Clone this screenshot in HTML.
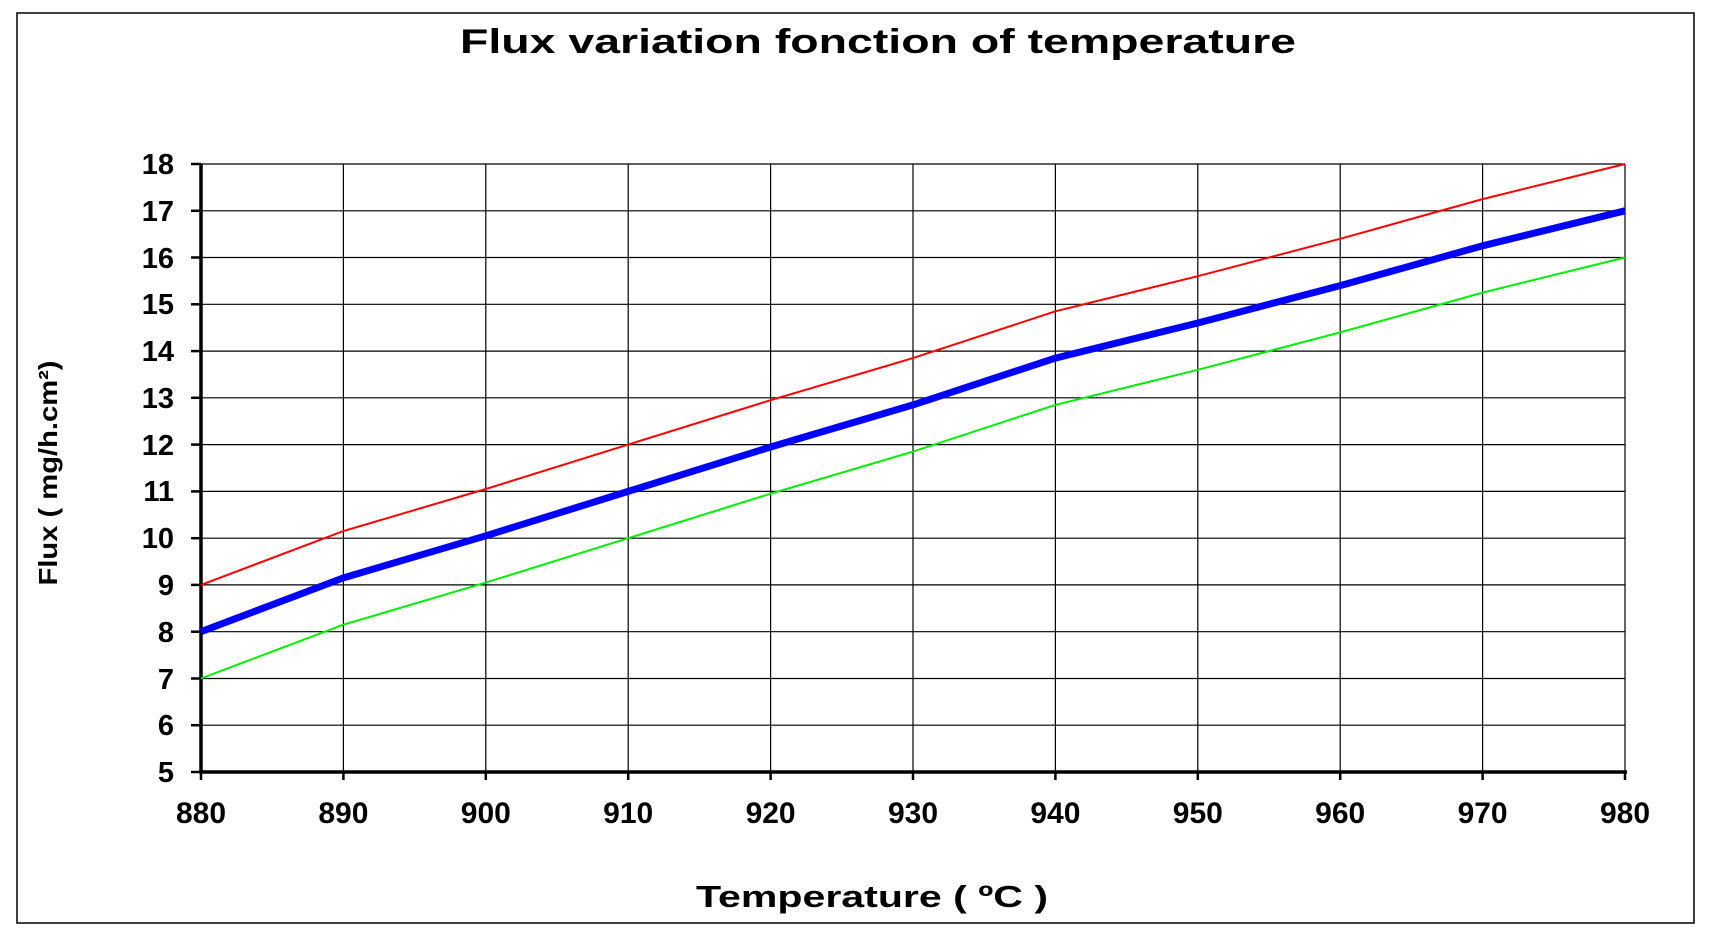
<!DOCTYPE html>
<html><head><meta charset="utf-8"><style>html,body{margin:0;padding:0;background:#fff}svg{display:block}</style></head>
<body>
<svg width="1717" height="938" viewBox="0 0 1717 938" xmlns="http://www.w3.org/2000/svg" font-family="Liberation Sans, Arial, sans-serif" font-weight="bold">
<rect x="17" y="13" width="1677" height="910" fill="#fff" stroke="#000" stroke-width="1.5"/>
<text x="878" y="53" font-size="34" text-anchor="middle" textLength="836" lengthAdjust="spacingAndGlyphs">Flux variation fonction of temperature</text>
<g stroke="#000" stroke-width="1.2">
<line x1="201" y1="164.0" x2="1625" y2="164.0"/><line x1="201" y1="210.8" x2="1625" y2="210.8"/><line x1="201" y1="257.5" x2="1625" y2="257.5"/><line x1="201" y1="304.3" x2="1625" y2="304.3"/><line x1="201" y1="351.1" x2="1625" y2="351.1"/><line x1="201" y1="397.8" x2="1625" y2="397.8"/><line x1="201" y1="444.6" x2="1625" y2="444.6"/><line x1="201" y1="491.4" x2="1625" y2="491.4"/><line x1="201" y1="538.2" x2="1625" y2="538.2"/><line x1="201" y1="584.9" x2="1625" y2="584.9"/><line x1="201" y1="631.7" x2="1625" y2="631.7"/><line x1="201" y1="678.5" x2="1625" y2="678.5"/><line x1="201" y1="725.2" x2="1625" y2="725.2"/>
<line x1="343.4" y1="164" x2="343.4" y2="772"/><line x1="485.8" y1="164" x2="485.8" y2="772"/><line x1="628.2" y1="164" x2="628.2" y2="772"/><line x1="770.6" y1="164" x2="770.6" y2="772"/><line x1="913" y1="164" x2="913" y2="772"/><line x1="1055.4" y1="164" x2="1055.4" y2="772"/><line x1="1197.8" y1="164" x2="1197.8" y2="772"/><line x1="1340.2" y1="164" x2="1340.2" y2="772"/><line x1="1482.6" y1="164" x2="1482.6" y2="772"/><line x1="1625" y1="164" x2="1625" y2="772"/>
</g>
<g stroke="#000" stroke-width="3.5">
<line x1="201" y1="164" x2="201" y2="773"/><line x1="199" y1="772" x2="1627" y2="772"/>
</g>
<g stroke="#000" stroke-width="2.5">
<line x1="191" y1="164" x2="201" y2="164"/><line x1="191" y1="210.8" x2="201" y2="210.8"/><line x1="191" y1="257.5" x2="201" y2="257.5"/><line x1="191" y1="304.3" x2="201" y2="304.3"/><line x1="191" y1="351.1" x2="201" y2="351.1"/><line x1="191" y1="397.8" x2="201" y2="397.8"/><line x1="191" y1="444.6" x2="201" y2="444.6"/><line x1="191" y1="491.4" x2="201" y2="491.4"/><line x1="191" y1="538.2" x2="201" y2="538.2"/><line x1="191" y1="584.9" x2="201" y2="584.9"/><line x1="191" y1="631.7" x2="201" y2="631.7"/><line x1="191" y1="678.5" x2="201" y2="678.5"/><line x1="191" y1="725.2" x2="201" y2="725.2"/><line x1="191" y1="772" x2="201" y2="772"/>
<line x1="201" y1="772" x2="201" y2="780"/><line x1="343.4" y1="772" x2="343.4" y2="780"/><line x1="485.8" y1="772" x2="485.8" y2="780"/><line x1="628.2" y1="772" x2="628.2" y2="780"/><line x1="770.6" y1="772" x2="770.6" y2="780"/><line x1="913" y1="772" x2="913" y2="780"/><line x1="1055.4" y1="772" x2="1055.4" y2="780"/><line x1="1197.8" y1="772" x2="1197.8" y2="780"/><line x1="1340.2" y1="772" x2="1340.2" y2="780"/><line x1="1482.6" y1="772" x2="1482.6" y2="780"/><line x1="1625" y1="772" x2="1625" y2="780"/>
</g>
<g font-size="29" text-anchor="end">
<text x="174" y="174">18</text><text x="174" y="221">17</text><text x="174" y="268">16</text><text x="174" y="314">15</text><text x="174" y="361">14</text><text x="174" y="408">13</text><text x="174" y="455">12</text><text x="174" y="501">11</text><text x="174" y="548">10</text><text x="174" y="595">9</text><text x="174" y="642">8</text><text x="174" y="689">7</text><text x="174" y="735">6</text><text x="174" y="782">5</text>
</g>
<g font-size="30" text-anchor="middle">
<text x="201" y="823">880</text><text x="343.4" y="823">890</text><text x="485.8" y="823">900</text><text x="628.2" y="823">910</text><text x="770.6" y="823">920</text><text x="913" y="823">930</text><text x="1055.4" y="823">940</text><text x="1197.8" y="823">950</text><text x="1340.2" y="823">960</text><text x="1482.6" y="823">970</text><text x="1625" y="823">980</text>
</g>
<text x="872" y="907" font-size="31" text-anchor="middle" textLength="352" lengthAdjust="spacingAndGlyphs">Temperature ( ºC )</text>
<text transform="translate(57,473) rotate(-90)" font-size="26" text-anchor="middle" textLength="225" lengthAdjust="spacingAndGlyphs">Flux ( mg/h.cm²)</text>
<polyline fill="none" stroke="#ff0000" stroke-width="2" points="201,584.9 343.4,531.1 485.8,489.0 628.2,444.6 770.6,400.2 913,358.1 1055.4,311.3 1197.8,276.2 1340.2,238.8 1482.6,199.1 1625,164"/>
<polyline fill="none" stroke="#0000ff" stroke-width="7" stroke-linejoin="round" points="201,631.7 343.4,577.9 485.8,535.8 628.2,491.4 770.6,447.0 913,404.9 1055.4,358.1 1197.8,323.0 1340.2,285.6 1482.6,245.8 1625,210.8"/>
<polyline fill="none" stroke="#00ee00" stroke-width="2" points="201,678.5 343.4,624.7 485.8,582.6 628.2,538.2 770.6,493.7 913,451.6 1055.4,404.9 1197.8,369.8 1340.2,332.4 1482.6,292.6 1625,257.5"/>
</svg>
</body></html>
